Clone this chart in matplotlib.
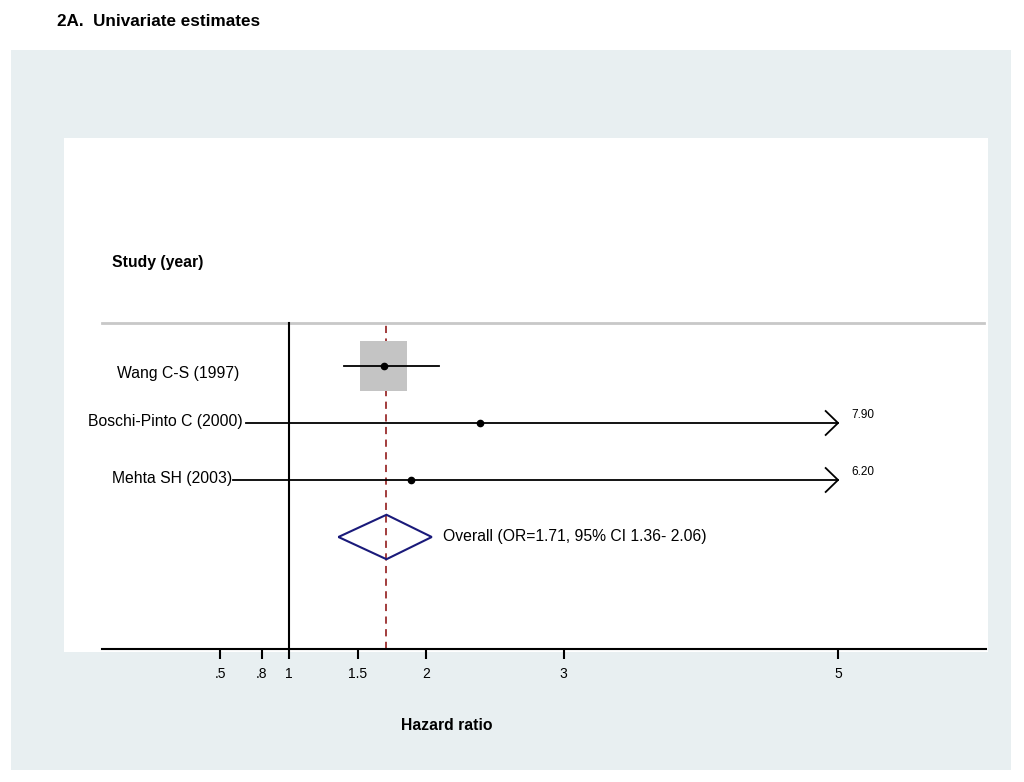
import matplotlib.pyplot as plt
from matplotlib.patches import Rectangle, Polygon

plt.rcParams['font.family'] = ['Liberation Sans', 'DejaVu Sans']

# study data (hazard ratios)
studies = ['Wang C-S (1997)', 'Boschi-Pinto C (2000)', 'Mehta SH (2003)']
hr = [1.69, 2.39, 1.89]
lower = [1.40, 0.69, 0.59]
upper = [2.09, 7.90, 6.20]
weight_box = [True, False, False]
overall_or = 1.71
overall_lo = 1.36
overall_hi = 2.06
ticks = [0.5, 0.8, 1, 1.5, 2, 3, 5]
tick_labels = ['.5', '.8', '1', '1.5', '2', '3', '5']
x_clip = 5.0

W, H = 1024, 782
fig = plt.figure(figsize=(W / 100, H / 100), dpi=100)
fig.patch.set_facecolor('white')

def px(x0, y0, x1, y1):
    # pixel box -> figure fraction rect
    return (x0 / W, 1 - y1 / H, (x1 - x0) / W, (y1 - y0) / H)

# backgrounds
b = px(11, 50, 1011, 770)
fig.add_artist(Rectangle(b[:2], b[2], b[3], transform=fig.transFigure,
                         facecolor='#e8eff1', edgecolor='none', zorder=0))
w = px(64, 138, 988, 652)
fig.add_artist(Rectangle(w[:2], w[2], w[3], transform=fig.transFigure,
                         facecolor='white', edgecolor='none', zorder=0))

fig.text(57 / W, 1 - 21 / H, '2A.  Univariate estimates', fontsize=12.3,
         fontweight='bold', va='center', ha='left')

ax = fig.add_axes(px(102, 138, 986, 649))
ax.set_facecolor('none')
ax.set_xlim(-0.3625, 6.078)
ax.set_ylim(-0.965, 8.0)
for s in ['top', 'left', 'right']:
    ax.spines[s].set_visible(False)
ax.spines['bottom'].set_linewidth(1.5)
ax.set_yticks([])
ax.set_xticks(ticks)
ax.set_xticklabels(tick_labels, fontsize=10)
ax.tick_params(axis='x', length=7, width=1.5, pad=6)
ax.set_xlabel('Hazard ratio', fontsize=11.3, fontweight='bold')
ax.xaxis.set_label_coords((447 - 102) / (986 - 102), -0.135)

header_y = 4.754
ax.plot([-0.3625, 6.06], [header_y, header_y], color='#c8c8c8', lw=2,
        clip_on=False)
ax.text(-0.29, 5.82, 'Study (year)', fontsize=11.3, fontweight='bold',
        va='center', ha='left')

# null line and overall line
ax.plot([1, 1], [-0.965, header_y], color='black', lw=1.5)
ax.plot([overall_or, overall_or], [-0.965, header_y], color='#9b2d2d',
        lw=1.3, ls=(0, (4, 3)), zorder=1.5)

rows = [4, 3, 2]
label_x = [239, 243, 232]
label_dy = [-0.14, 0.03, 0.02]
for i, name in enumerate(studies):
    y = rows[i]
    if weight_box[i]:
        ax.add_patch(Rectangle((hr[i] - 0.171, y - 0.43), 0.342, 0.86,
                               facecolor='#c4c4c4', edgecolor='none', zorder=2))
    hi = min(upper[i], x_clip)
    ax.plot([lower[i], hi], [y, y], color='black', lw=1.3, zorder=3)
    ax.plot(hr[i], y, 'o', color='black', ms=4.5, zorder=4)
    if upper[i] > x_clip:
        ax.plot([x_clip - 0.09, x_clip, x_clip - 0.09], [y + 0.21, y, y - 0.21],
                color='black', lw=1.3, zorder=3)
        ax.text(x_clip + 0.095, y + 0.14, f'{upper[i]:.2f}', fontsize=8.5,
                va='center', ha='left')
    ax.text((label_x[i] - 151.75) / 137.25, y + label_dy[i], name,
            fontsize=11.3, va='center', ha='right')

# overall diamond
ax.add_patch(Polygon([[overall_lo, 1], [overall_or, 1.39],
                      [overall_hi - 0.02, 1], [overall_or, 0.61]],
                     closed=True, facecolor='none', edgecolor='#1a1a7a',
                     lw=1.5, zorder=3))
ax.text(2.12, 1.0,
        f'Overall (OR={overall_or:.2f}, 95% CI {overall_lo:.2f}- {overall_hi:.2f})',
        fontsize=11.3, va='center', ha='left')

fig.savefig('out.png', dpi=100)
